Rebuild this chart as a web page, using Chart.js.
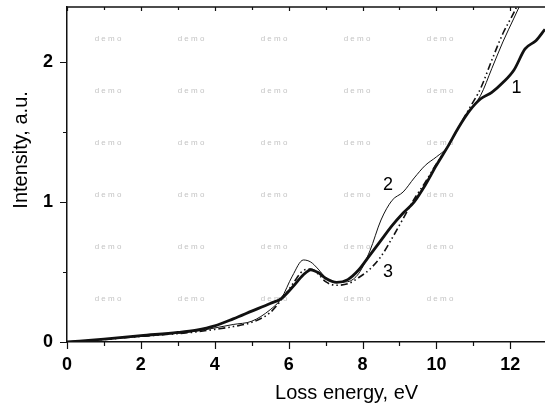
<!DOCTYPE html>
<html>
<head>
<meta charset="utf-8">
<script src="https://cdn.jsdelivr.net/npm/chart.js@4.4.0/dist/chart.umd.min.js"></script>
<style>
    html, body { margin: 0; padding: 0; background: #fff; }
    #wrap { width: 545px; height: 409px; }
</style>
</head>
<body>
<div id="wrap"><canvas id="loss-chart" width="545" height="409"></canvas></div>
<script>
// loss energy grid (eV), shared by all three curves
const energy = [0, 1, 2, 3, 3.5, 4, 4.5, 5, 5.5, 5.8, 6.1, 6.4, 6.6, 6.8, 7.0, 7.3, 7.6, 7.9,
    8.2, 8.5, 8.8, 9.1, 9.4, 9.7, 10.0, 10.3, 10.6, 10.9, 11.2, 11.5, 11.8, 12.1, 12.4, 12.7, 12.94];

// curve 1 - thick solid
const intensity1 = [0, 0.02, 0.045, 0.068, 0.085, 0.115, 0.165, 0.22, 0.275, 0.31, 0.39, 0.48, 0.515, 0.495,
    0.455, 0.425, 0.445, 0.515, 0.62, 0.725, 0.83, 0.92, 1.0, 1.12, 1.26, 1.39, 1.53, 1.65, 1.735, 1.78,
    1.85, 1.94, 2.09, 2.15, 2.23];

// curve 2 - thin solid
const intensity2 = [0, 0.018, 0.04, 0.062, 0.077, 0.1, 0.125, 0.148, 0.23, 0.31, 0.47, 0.585, 0.57, 0.52,
    0.46, 0.425, 0.43, 0.49, 0.65, 0.87, 1.01, 1.07, 1.17, 1.26, 1.32, 1.39, 1.53, 1.65, 1.76, 1.95,
    2.14, 2.31, 2.48];

// curve 3 - dash-dot-dot
const intensity3 = [0, 0.018, 0.04, 0.06, 0.072, 0.09, 0.11, 0.14, 0.21, 0.3, 0.41, 0.51, 0.52, 0.485,
    0.43, 0.405, 0.415, 0.46, 0.52, 0.61, 0.74, 0.88, 1.02, 1.14, 1.27, 1.39, 1.53, 1.67, 1.81, 2.01,
    2.2, 2.35, 2.52];

// curve number labels placed in data units
const curveNames = ['1', '2', '3'];
const curveNameEnergy = [12.17, 8.69, 8.69];
const curveNameIntensity = [1.81, 1.12, 0.5];

const xMax = 12.94;
const yMax = 2.389;

function toPoints(ys) {
    return ys.map((y, i) => ({ x: energy[i], y: y }));
}

const fontFamily = '"Liberation Sans", Arial, sans-serif';

// axes decoration: top frame, minor/major ticks, titles, curve numbers, watermark
const decor = {
    id: 'decor',
    beforeDatasetsDraw(chart) {
        const ctx = chart.ctx;
        const a = chart.chartArea;
        ctx.save();
        ctx.fillStyle = '#c4c4c4';
        ctx.font = '8px ' + fontFamily;
        ctx.textAlign = 'center';
        ctx.textBaseline = 'middle';
        for (let i = 0; i < 5; i++) {
            for (let j = 0; j < 6; j++) {
                ctx.fillText('d e m o', a.left + 41 + i * 83, a.top + 31.5 + j * 52);
            }
        }
        ctx.restore();
    },
    afterDraw(chart) {
        const ctx = chart.ctx;
        const a = chart.chartArea;
        const sx = chart.scales.x;
        const sy = chart.scales.y;
        ctx.save();
        ctx.strokeStyle = '#111';
        ctx.lineWidth = 1.5;

        // top frame line
        ctx.beginPath();
        ctx.moveTo(a.left, a.top);
        ctx.lineTo(a.right, a.top);
        ctx.stroke();

        ctx.lineWidth = 1.2;
        ctx.beginPath();
        for (let v = 0; v <= 12; v++) {
            const px = Math.round(sx.getPixelForValue(v)) + 0.5;
            const major = v % 2 === 0;
            ctx.moveTo(px, a.bottom);
            ctx.lineTo(px, a.bottom + (major ? 7 : 4));
            ctx.moveTo(px, a.top);
            ctx.lineTo(px, a.top + (major ? 4 : 3));
        }
        for (let v = 0; v <= 2; v += 0.5) {
            const py = Math.round(sy.getPixelForValue(v)) + 0.5;
            const major = v % 1 === 0;
            ctx.moveTo(a.left, py);
            ctx.lineTo(a.left - (major ? 7 : 4), py);
        }
        ctx.stroke();

        // curve numbers
        ctx.fillStyle = '#000';
        ctx.font = '18px ' + fontFamily;
        ctx.textAlign = 'center';
        ctx.textBaseline = 'middle';
        curveNames.forEach((n, i) => {
            ctx.fillText(n, sx.getPixelForValue(curveNameEnergy[i]), sy.getPixelForValue(curveNameIntensity[i]));
        });

        // axis titles
        ctx.font = '20px ' + fontFamily;
        ctx.fillText('Loss energy, eV', sx.getPixelForValue(7.57), 393);
        ctx.translate(21, sy.getPixelForValue(1.37));
        ctx.rotate(-Math.PI / 2);
        ctx.fillText('Intensity, a.u.', 0, 0);
        ctx.restore();
    }
};

const ctxLoss = document.getElementById('loss-chart').getContext('2d');

new Chart(ctxLoss, {
    type: 'line',
    data: {
        datasets: [{
            label: '1',
            data: toPoints(intensity1),
            borderColor: '#111',
            borderWidth: 2.8
        }, {
            label: '2',
            data: toPoints(intensity2),
            borderColor: '#111',
            borderWidth: 1
        }, {
            label: '3',
            data: toPoints(intensity3),
            borderColor: '#111',
            borderWidth: 1.6,
            borderDash: [7, 3, 1.5, 3, 1.5, 3]
        }]
    },
    options: {
        responsive: false,
        animation: false,
        devicePixelRatio: 1,
        layout: { autoPadding: false, padding: { top: 7, right: 0, left: 0, bottom: 0 } },
        elements: {
            point: { radius: 0 },
            line: { cubicInterpolationMode: 'monotone', fill: false }
        },
        plugins: {
            legend: { display: false },
            title: { display: false },
            tooltip: { enabled: false }
        },
        scales: {
            x: {
                type: 'linear',
                min: 0,
                max: xMax,
                afterFit: s => { s.height = 67; s.paddingLeft = 0; s.paddingRight = 0; },
                ticks: {
                    stepSize: 2,
                    includeBounds: false,
                    maxRotation: 0,
                    color: '#000',
                    padding: 12,
                    font: { family: fontFamily, size: 18, weight: 'bold' }
                },
                grid: { display: false, drawTicks: false },
                border: { display: true, color: '#111', width: 1.5 }
            },
            y: {
                min: 0,
                max: yMax,
                afterFit: s => { s.width = 67; s.paddingTop = 0; s.paddingBottom = 0; },
                ticks: {
                    stepSize: 1,
                    includeBounds: false,
                    color: '#000',
                    padding: 14,
                    font: { family: fontFamily, size: 18, weight: 'bold' }
                },
                grid: { display: false, drawTicks: false },
                border: { display: true, color: '#111', width: 1.5 }
            }
        }
    },
    plugins: [decor]
});
</script>
</body>
</html>
